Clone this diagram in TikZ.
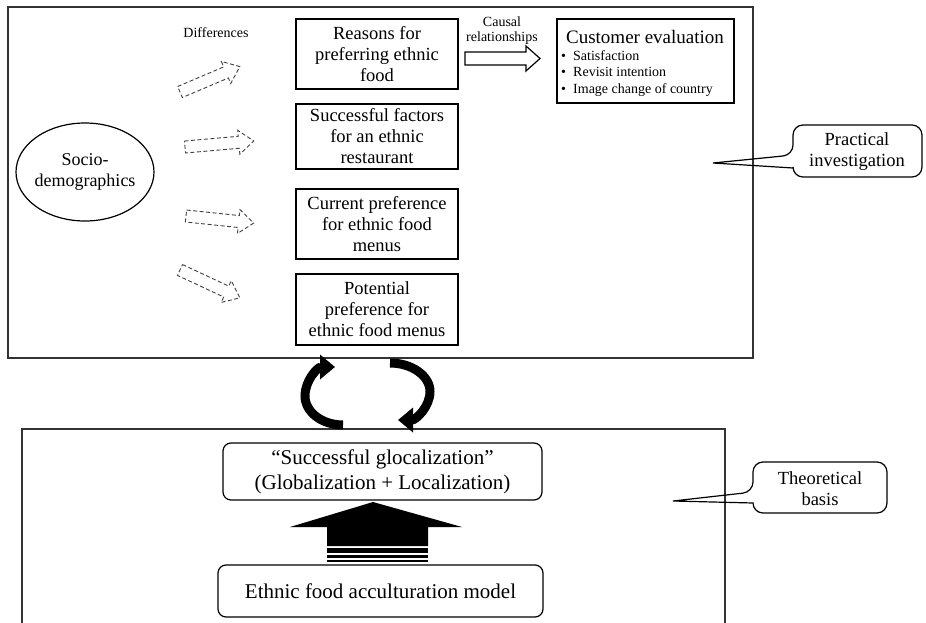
\documentclass[tikz,border=0pt]{standalone}
\usepackage{fontspec}
\setmainfont{Liberation Serif}
\usetikzlibrary{arrows.meta,shapes.geometric}
\newcommand{\hollowarrow}[4]{%
  \draw[dasharr, shift={(#1,#2)}, rotate=#3] (0,-6) -- (#4-15,-6) -- (#4-15,-12) -- (#4,0) -- (#4-15,12) -- (#4-15,6) -- (0,6) -- cycle;}
\begin{document}
\begin{tikzpicture}[x=1pt,y=-1pt,
  frame/.style={draw=black!80, line width=1.6pt},
  box/.style={draw, line width=1.2pt, align=center, inner sep=0pt, font=\fontsize{18.5}{21}\selectfont},
  rbox/.style={box, rounded corners=8pt, font=\fontsize{21}{25}\selectfont},
  small/.style={font=\fontsize{14}{15}\selectfont, align=center, inner sep=0pt},
  dasharr/.style={draw=black!75, line width=0.9pt, dash pattern=on 4pt off 2.5pt},
  loop/.style={line width=9pt, -{Triangle[length=15pt,width=24pt]}},
  callout/.style={line width=1.2pt},
  ctext/.style={font=\fontsize{18.5}{21}\selectfont, align=center, inner sep=0pt}
]
\useasboundingbox (0,0) rectangle (926,623);
\fill[white] (0,0) rectangle (926,623);

% frames
\draw[frame] (8,7) rectangle (753,358);
\draw[frame] (22,640) -- (22,429) -- (725,429) -- (725,640);

% left ellipse
\node[ellipse, draw, line width=1.2pt, minimum width=138pt, minimum height=98pt, align=center,
      font=\fontsize{18}{21}\selectfont, inner xsep=-2pt, inner ysep=0pt] (socio) at (85,172) {Socio-\\demographics};

% boxes
\node[box, minimum width=162pt, minimum height=70pt] (reasons) at (377,54) {Reasons for\\preferring ethnic\\food};
\node[box, minimum width=162pt, minimum height=65pt] (factors) at (377,136.5) {Successful factors\\for an ethnic\\restaurant};
\node[box, minimum width=162pt, minimum height=70pt] (current) at (377,224) {Current preference\\for ethnic food\\menus};
\node[box, minimum width=162pt, minimum height=71pt] (potential) at (377,309.5) {Potential\\preference for\\ethnic food menus};

% customer evaluation
\node[box, minimum width=177pt, minimum height=84pt] (cust) at (645.5,61) {};
\node[font=\fontsize{19}{21}\selectfont, inner sep=0pt] (custtitle) at (645,37) {Customer evaluation};
\node[font=\fontsize{14}{16.5}\selectfont, align=left, inner sep=0pt, anchor=west] (bullets) at (561,73.5)
  {\makebox[12pt][l]{•}Satisfaction\\\makebox[12pt][l]{•}Revisit intention\\\makebox[12pt][l]{•}Image change of country};

% small labels
\node[small] (diff) at (216,33) {Differences};
\node[small] (causal) at (502,30.5) {Causal\\relationships};

% dashed hollow arrows
\hollowarrow{180}{92}{23}{65}
\hollowarrow{185}{147}{5}{69}
\hollowarrow{186}{216}{-6}{68}
\hollowarrow{180}{270}{-25}{66}

% causal hollow arrow
\draw[line width=1.2pt] (465,52) -- (526,52) -- (526,46) -- (540,58.5) -- (526,71) -- (526,65) -- (465,65) -- cycle;

% callouts
\draw[callout] (713,163) -- (793,168) [rounded corners=10pt] -- (793,177) -- (922,177) -- (922,125) -- (793,125) -- (793,155) [sharp corners] -- cycle;
\node[ctext] (prac) at (857,152) {Practical\\investigation};
\draw[callout] (673,501) -- (753,503) [rounded corners=10pt] -- (753,513) -- (887,513) -- (887,462) -- (753,462) -- (753,492) [sharp corners] -- cycle;
\node[ctext] (theo) at (820,489) {Theoretical\\basis};

% circular arrows
\draw[loop] (343,425) .. controls (322,425) and (305,412) .. (305,396) .. controls (305,380) and (318,367) .. (335,367);
\draw[loop] (390,363) .. controls (412,363) and (430,376) .. (430,391.5) .. controls (430,407) and (415.6,420) .. (398,420);

% bottom boxes
\node[rbox, minimum width=319pt, minimum height=57pt] (gloc) at (382.5,471.5) {“Successful glocalization”\\(Globalization + Localization)};
\node[rbox, minimum width=325pt, minimum height=52pt] (accul) at (380.5,591) {Ethnic food acculturation model};

% big up arrow
\fill (290,527) -- (373,502) -- (462,527) -- (428,527) -- (428,546) -- (327,546) -- (327,527) -- cycle;
\fill (327,548) rectangle (428,553);
\fill (327,555) rectangle (428,558);
\fill (327,560) rectangle (428,562);
\end{tikzpicture}
\end{document}
